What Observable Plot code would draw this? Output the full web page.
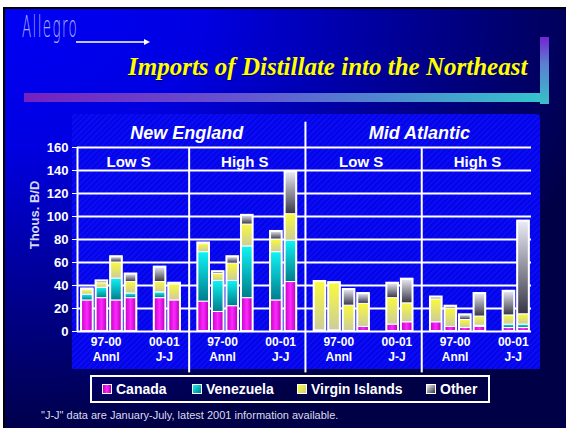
<!DOCTYPE html>
<html><head><meta charset="utf-8">
<script src="https://cdn.jsdelivr.net/npm/d3@7"></script>
<script src="https://cdn.jsdelivr.net/npm/@observablehq/plot@0.6"></script>
<style>
html,body{margin:0;padding:0;background:#fff;}
#stage{position:relative;width:566px;height:428px;overflow:hidden;font-family:Arial,"Liberation Sans",sans-serif;}
#slide{position:absolute;left:3px;top:7px;width:563px;height:421px;box-sizing:border-box;border-top:2px solid #000;border-left:2px solid #000;
 background:radial-gradient(ellipse 620px 430px at 0 0,#0000f5 0%,#0000e2 32%,#00008c 68%,#000046 100%);}
#logo{position:absolute;left:22px;top:10px;font-family:"DejaVu Sans",sans-serif;font-weight:200;font-size:30px;letter-spacing:3px;color:#aeb0ff;transform:scaleX(0.45);transform-origin:0 0;white-space:nowrap;line-height:34px;}
#arrow{position:absolute;left:74px;top:37px;}
#title{position:absolute;left:128px;top:54px;font-family:"Liberation Serif","Times New Roman",serif;font-weight:bold;font-style:italic;font-size:25px;line-height:25px;color:#ffff00;white-space:nowrap;text-shadow:1px 1px 0 #000070;}
#hbar{position:absolute;left:24px;top:93px;width:516px;height:9px;background:linear-gradient(to right,#7420c0,#6458d0 45%,#34c4cc);}
#vbar{position:absolute;left:540px;top:37px;width:9px;height:67px;background:linear-gradient(to top,#38c0c8,#5a80d0 60%,#7424d0);}
#panel{position:absolute;left:72px;top:114px;width:468px;height:255px;border-top-right-radius:4px;
 background:repeating-linear-gradient(135deg,#0404e8 0 2px,#0c0cf2 2px 4px);}
#ytitle{position:absolute;left:34px;top:215px;transform:translate(-50%,-50%) rotate(-90deg);font-weight:bold;font-size:13px;color:#d8d8f4;white-space:nowrap;}
#chart{position:absolute;left:0;top:0;}
#legend{position:absolute;left:90px;top:375px;width:400px;height:28px;box-sizing:border-box;border:2px solid #fff;}
.item{position:absolute;top:0;height:24px;display:flex;align-items:center;color:#fff;font-weight:bold;font-size:14px;white-space:nowrap;}
.sw{width:8px;height:8px;border:1px solid #fff;margin-right:4px;}
#note{position:absolute;left:41px;top:409px;font-size:11px;color:#dcdcea;white-space:nowrap;}
</style></head>
<body>
<svg width="0" height="0" style="position:absolute">
 <defs>
  <linearGradient id="fill0" x1="0" y1="0" x2="1" y2="0">
   <stop offset="0" stop-color="#c000c0"/><stop offset="0.5" stop-color="#ff28ff"/><stop offset="1" stop-color="#b000b0"/>
  </linearGradient>
  <linearGradient id="fill1" x1="0" y1="0" x2="0" y2="1">
   <stop offset="0" stop-color="#10f4f4"/><stop offset="1" stop-color="#007c8c"/>
  </linearGradient>
  <linearGradient id="fill2" x1="0" y1="0" x2="0" y2="1">
   <stop offset="0" stop-color="#fafa3c"/><stop offset="1" stop-color="#cccc9c"/>
  </linearGradient>
  <linearGradient id="fill3" x1="0" y1="0" x2="0" y2="1">
   <stop offset="0" stop-color="#ececf6"/><stop offset="1" stop-color="#363646"/>
  </linearGradient>
 </defs>
</svg>
<div id="stage">
 <div id="slide"></div>
 <div id="logo">Allegro</div>
 <svg id="arrow" width="80" height="10"><line x1="2" y1="5" x2="72" y2="5" stroke="#fff" stroke-width="1.5"/><path d="M70,2 L76,5 L70,8 Z" fill="#fff"/></svg>
 <div id="title">Imports of Distillate into the Northeast</div>
 <div id="hbar"></div>
 <div id="vbar"></div>
 <div id="panel"></div>
 <div id="ytitle">Thous. B/D</div>
 <div id="chartwrap"></div>
 <div id="legend"></div>
 <div id="note">"J-J" data are January-July, latest 2001 information available.</div>
</div>
<script>
// ---- data ----
const panelRegion = ["New England", "New England", "Mid Atlantic", "Mid Atlantic"];
const panelSulfur = ["Low S", "High S", "Low S", "High S"];
const barSlot = [0, 1, 2, 3, 5, 6];
const barGroup = [0, 0, 0, 0, 1, 1];
const groupLabels = ["97-00\nAnnl", "00-01\nJ-J"];
const sources = ["Canada", "Venezuela", "Virgin Islands", "Other"];
const yTicks = [0, 20, 40, 60, 80, 100, 120, 140, 160];

// values per panel (rows) per bar (columns), Thous. B/D
const canada = [
  [27, 29, 27, 29, 29, 27],
  [26, 17, 22, 29, 27, 43],
  [1, 1, 0.5, 4, 6, 8],
  [8, 4, 3, 4, 3, 3]
];
const venezuela = [
  [5, 9, 19, 4, 5, 0],
  [43, 27, 22, 45, 42, 36],
  [0, 0, 0, 0, 0, 0],
  [0, 0, 0, 1, 3, 3]
];
const virginIslands = [
  [4, 4, 14, 10, 9, 14],
  [7, 6, 15, 19, 11, 23],
  [42, 41, 22, 20, 23, 16.5],
  [20, 16, 7, 8, 8, 9]
];
const other = [
  [1, 2, 5, 7, 13, 1],
  [1, 2, 6, 8, 7, 37],
  [0.5, 0.5, 14, 9, 13, 21],
  [2, 2, 4.5, 20, 21, 81]
];

// ---- build tables ----
const series = [canada, venezuela, virginIslands, other];
const PANEL = 8;
const xMin = -0.68, xMax = 30.55;
const rows = [], totals = [];
panelSulfur.forEach((_, p) => barSlot.forEach((slot, b) => {
  let base = 0;
  const pos = p * PANEL + slot;
  sources.forEach((s, k) => {
    const v = series[k][p][b];
    rows.push({pos, source: s, y1: base, y2: base + v});
    base += v;
  });
  totals.push({pos, total: base});
}));
const mean = a => a.reduce((s, v) => s + v, 0) / a.length;
const subHeads = panelSulfur.map((t, p) => ({pos: p * PANEL + mean(barSlot), text: t}));
const regions = [...new Set(panelRegion)];
const regionHeads = regions.map(r => {
  const ps = panelRegion.map((v, i) => v === r ? i : -1).filter(i => i >= 0);
  return {pos: mean(ps.map(p => p * PANEL + mean(barSlot))), text: r};
});
const groupHeads = [];
panelSulfur.forEach((_, p) => groupLabels.forEach((g, gi) => {
  const slots = barSlot.filter((s, b) => barGroup[b] === gi);
  groupHeads.push({pos: p * PANEL + mean(slots), text: g});
}));
const seps = panelSulfur.slice(1).map((_, i) => ({
  pos: (i + 1) * PANEL - 1,
  top: panelRegion[i] !== panelRegion[i + 1] ? 182 : 160
}));

const chart = Plot.plot({
  width: 566, height: 428,
  marginLeft: 77, marginRight: 35, marginTop: 147, marginBottom: 97,
  x: {type: "linear", domain: [xMin, xMax], axis: null},
  y: {domain: [0, 160], ticks: yTicks, tickSize: 5, tickPadding: 4, label: null},
  color: {domain: sources, range: sources.map((s, i) => `url(#fill${i})`)},
  style: {background: "transparent", color: "white", fontFamily: "Arial, 'Liberation Sans', sans-serif", fontSize: "13px", fontWeight: "bold", overflow: "visible"},
  marks: [
    Plot.ruleY(yTicks, {stroke: "white", strokeWidth: 2}),
    Plot.ruleX([xMin], {y1: 0, y2: 160, stroke: "white", strokeWidth: 2}),
    Plot.ruleX(seps, {x: "pos", y1: -36, y2: "top", stroke: "white", strokeWidth: 2}),
    Plot.rect(rows, {x1: d => d.pos - 0.4, x2: d => d.pos + 0.4, y1: "y1", y2: "y2", fill: "source", stroke: "white", strokeWidth: 1}),
    Plot.rect(totals, {x1: d => d.pos - 0.4, x2: d => d.pos + 0.4, y1: 0, y2: "total", fill: "none", stroke: "white", strokeWidth: 2}),
    Plot.text(subHeads, {x: "pos", y: 147, text: "text", fill: "white", fontSize: 15, fontWeight: "bold"}),
    Plot.text(regionHeads, {x: "pos", y: 172, text: "text", fill: "white", fontSize: 18, fontWeight: "bold", fontStyle: "italic"}),
    Plot.text(groupHeads, {x: "pos", y: 0, text: "text", fill: "white", fontSize: 12, fontWeight: "bold", lineAnchor: "top", lineHeight: 1.3, dy: 3, dx: -3})
  ]
});
chart.id = "chart";
document.getElementById("chartwrap").replaceWith(chart);

// legend
const swatch = ["linear-gradient(to right,#c000c0,#ff28ff,#b000b0)", "linear-gradient(135deg,#10f4f4,#007c8c)", "linear-gradient(135deg,#ffff28,#c8c890)", "linear-gradient(135deg,#ececf6,#363646)"];
const legendX = [10, 100, 205, 334];
const leg = document.getElementById("legend");
sources.forEach((s, i) => {
  const it = document.createElement("div");
  it.className = "item";
  it.style.left = legendX[i] + "px";
  it.innerHTML = `<span class="sw" style="background:${swatch[i]}"></span>${s}`;
  leg.appendChild(it);
});
</script>
</body></html>
